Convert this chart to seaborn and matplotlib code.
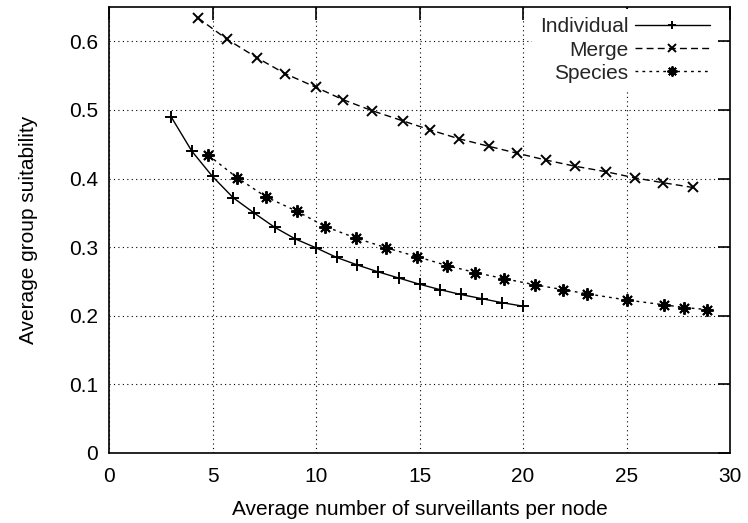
import matplotlib
matplotlib.use("Agg")
import matplotlib.pyplot as plt
import seaborn as sns
import pandas as pd
import numpy as np

# ---- data ----
ind_x = [3, 4, 5, 6, 7, 8, 9, 10, 11, 12, 13, 14, 15, 16, 17, 18, 19, 20]
ind_y = [0.490, 0.440, 0.403, 0.372, 0.350, 0.329, 0.312, 0.299, 0.285, 0.274,
         0.264, 0.255, 0.246, 0.238, 0.231, 0.225, 0.219, 0.214]

merge_x = [4.3, 5.7, 7.15, 8.5, 10.0, 11.3, 12.7, 14.2, 15.5, 16.9, 18.35, 19.7,
           21.1, 22.5, 24.0, 25.4, 26.75, 28.2]
merge_y = [0.634, 0.603, 0.576, 0.553, 0.533, 0.515, 0.499, 0.484, 0.471, 0.458,
           0.447, 0.437, 0.427, 0.418, 0.410, 0.401, 0.394, 0.387]

spec_x = [4.8, 6.2, 7.6, 9.1, 10.45, 11.95, 13.4, 14.9, 16.35, 17.7, 19.1, 20.6,
          21.95, 23.1, 25.0, 26.8, 27.8, 28.9]
spec_y = [0.434, 0.401, 0.373, 0.352, 0.330, 0.313, 0.299, 0.286, 0.273, 0.263,
          0.254, 0.245, 0.238, 0.232, 0.223, 0.216, 0.212, 0.209]

series_names = ["Individual", "Merge", "Species"]
x_ticks = [0, 5, 10, 15, 20, 25, 30]
y_ticks = [0, 0.1, 0.2, 0.3, 0.4, 0.5, 0.6]
y_tick_labels = ["0", "0.1", "0.2", "0.3", "0.4", "0.5", "0.6"]
x_label = "Average number of surveillants per node"
y_label = "Average group suitability"

sns.set_theme(style="white")
plt.rcParams["font.family"] = ["Liberation Sans", "DejaVu Sans"]

FS = 15

fig = plt.figure(figsize=(7.48, 5.23), dpi=100)
ax = fig.add_axes([109 / 748, 1 - 453 / 523, (730 - 109) / 748, (453 - 7) / 523])

styles = [
    dict(linestyle="-", marker="+", markersize=8),
    dict(linestyle=(0, (5, 3)), marker="x", markersize=7),
    dict(linestyle=(0, (2, 3)), marker=(8, 2, 0), markersize=9),
]
data = [(ind_x, ind_y), (merge_x, merge_y), (spec_x, spec_y)]
for name, (xs, ys), st in zip(series_names, data, styles):
    df = pd.DataFrame({"x": xs, "y": ys})
    sns.lineplot(data=df, x="x", y="y", ax=ax, color="black", linewidth=1.0,
                 markeredgewidth=1.4, markeredgecolor="black", label=name, **st)

ax.set_xlim(0, 30)
ax.set_ylim(0, 0.65)
ax.set_xticks(x_ticks)
ax.set_xticklabels([str(t) for t in x_ticks])
ax.set_yticks(y_ticks)
ax.set_yticklabels(y_tick_labels)
ax.grid(True, color="black", linestyle=(0, (1, 3)), linewidth=0.8)
ax.set_axisbelow(True)
for sp in ax.spines.values():
    sp.set_color("black")
    sp.set_linewidth(1.2)
ax.tick_params(direction="in", length=9, width=1.2, top=True, right=True,
               labelsize=FS, colors="black")
ax.tick_params(axis="x", pad=10)
ax.tick_params(axis="y", pad=8)
ax.set_xlabel(x_label, fontsize=FS, color="black", labelpad=10)
ax.set_ylabel(y_label, fontsize=FS, color="black", labelpad=22)

leg = ax.legend(loc="upper right", markerfirst=False, frameon=True,
                facecolor="white", edgecolor="none", framealpha=1.0,
                fontsize=FS, handlelength=3.6, handletextpad=0.3,
                labelspacing=0.2, borderpad=0.4, borderaxespad=0.1,
                fancybox=False, markerscale=0.8)
leg.set_bbox_to_anchor((1.0 - 10 / 621, 1.0), transform=ax.transAxes)

fig.savefig("out.png", dpi=100)
